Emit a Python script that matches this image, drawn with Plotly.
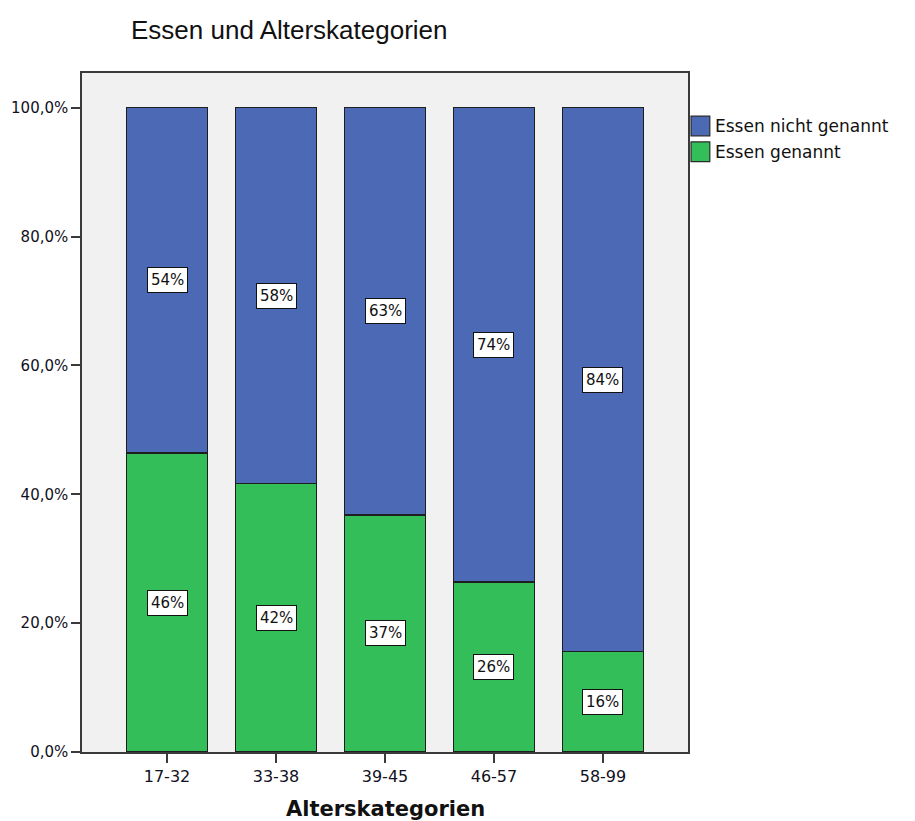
import plotly.graph_objects as go

# Age groups and share (in %) of respondents who named food
categories = ["17-32", "33-38", "39-45", "46-57", "58-99"]
genannt = [46.4, 41.7, 36.8, 26.4, 15.6]
nicht_genannt = [round(100 - v, 1) for v in genannt]

colors = {"Essen nicht genannt": "#4B69B5", "Essen genannt": "#33BE5A"}

y_tick_values = [0, 20, 40, 60, 80, 100]
y_tick_labels = [f"{v:.1f}%".replace(".", ",") for v in y_tick_values]

fig = go.Figure()

# Stacked bars: green (genannt) at the bottom, blue (nicht genannt) on top
fig.add_trace(go.Bar(
    x=categories, y=genannt, name="Essen genannt",
    marker=dict(color=colors["Essen genannt"], line=dict(color="#1e1e1e", width=1.2)),
    width=0.75, showlegend=False, hoverinfo="x+y",
))
fig.add_trace(go.Bar(
    x=categories, y=nicht_genannt, name="Essen nicht genannt",
    marker=dict(color=colors["Essen nicht genannt"], line=dict(color="#1e1e1e", width=1.2)),
    width=0.75, showlegend=False, hoverinfo="x+y",
))

# Boxed percentage labels in the middle of each segment
annotations = []
for cat, g, n in zip(categories, genannt, nicht_genannt):
    for base, val in ((0, g), (g, n)):
        annotations.append(dict(
            x=cat, y=base + val / 2, xref="x", yref="y",
            text=f"{round(val):d}%", showarrow=False,
            font=dict(family="DejaVu Sans", size=15, color="#111111"),
            bgcolor="white", bordercolor="#111111", borderwidth=1, borderpad=3,
        ))

# X axis title placed under the tick labels
annotations.append(dict(
    x=0.5, y=-0.084, xref="paper", yref="paper",
    text="<b>Alterskategorien</b>", showarrow=False,
    xanchor="center", yanchor="middle",
    font=dict(family="DejaVu Sans", size=21, color="#111111"),
))

# Hand-drawn legend with large swatches to the right of the plot
shapes = []
legend_rows = [("Essen nicht genannt", 0.922), ("Essen genannt", 0.884)]
for name, yc in legend_rows:
    shapes.append(dict(
        type="rect", xref="paper", yref="paper",
        x0=1.005, x1=1.036, y0=yc - 0.0145, y1=yc + 0.0145,
        fillcolor=colors[name], line=dict(color="#2a2a2a", width=1.2),
    ))
    annotations.append(dict(
        x=1.041, y=yc, xref="paper", yref="paper", text=name,
        showarrow=False, xanchor="left", yanchor="middle",
        font=dict(family="DejaVu Sans", size=17, color="#111111"),
    ))

fig.update_layout(
    barmode="stack",
    width=915, height=821,
    margin=dict(l=82, r=227, t=73, b=69, autoexpand=False),
    paper_bgcolor="white",
    plot_bgcolor="#F1F1F1",
    showlegend=False,
    title=dict(
        text="Essen und Alterskategorien",
        x=131 / 915, xref="container", xanchor="left",
        y=1 - 30 / 821, yref="container", yanchor="middle",
        font=dict(family="Liberation Sans", size=26, color="#111111"),
    ),
    annotations=annotations,
    shapes=shapes,
    xaxis=dict(
        range=[-0.78, 4.78],
        showgrid=False, zeroline=False,
        showline=True, linecolor="#3a3a3a", linewidth=1.5, mirror=True,
        ticks="outside", ticklen=9, tickcolor="#3a3a3a", tickwidth=1.5,
        tickfont=dict(family="DejaVu Sans", size=16, color="#111122"),
    ),
    yaxis=dict(
        range=[0, 105.4],
        tickvals=y_tick_values, ticktext=y_tick_labels,
        showgrid=False, zeroline=False,
        showline=True, linecolor="#3a3a3a", linewidth=1.5, mirror=True,
        ticks="outside", ticklen=9, tickcolor="#3a3a3a", tickwidth=1.5,
        tickfont=dict(family="DejaVu Sans", size=15, color="#111122"),
    ),
)

fig.write_html("out.html")
